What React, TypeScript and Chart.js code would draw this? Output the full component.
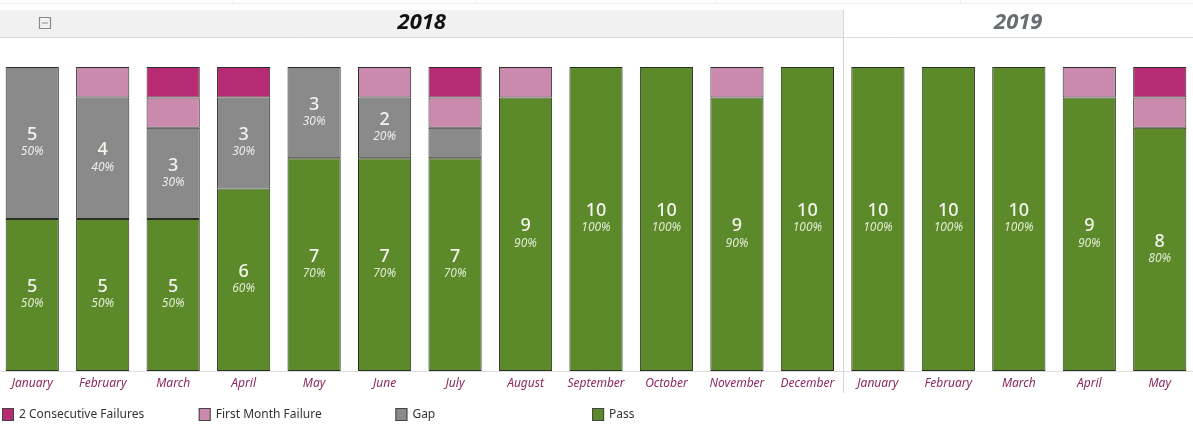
import React, { useEffect, useRef } from "react";
import { Chart, registerables } from "chart.js";

Chart.register(...registerables);

const months = [
  "January", "February", "March", "April", "May", "June", "July", "August",
  "September", "October", "November", "December",
  "January", "February", "March", "April", "May",
];
const years = ["2018", "2019"];
const monthsIn2018 = 12;

const passValues = [5, 5, 5, 6, 7, 7, 7, 9, 10, 10, 9, 10, 10, 10, 10, 9, 8];
const gapValues = [5, 4, 3, 3, 3, 2, 1, 0, 0, 0, 0, 0, 0, 0, 0, 0, 0];
const firstMonthFailureValues = [0, 1, 1, 0, 0, 1, 1, 1, 0, 0, 1, 0, 0, 0, 0, 1, 1];
const consecutiveFailureValues = [0, 0, 1, 1, 0, 0, 1, 0, 0, 0, 0, 0, 0, 0, 0, 0, 1];

const seriesNames = ["Pass", "Gap", "First Month Failure", "2 Consecutive Failures"];
const seriesColors = ["#5c8a2b", "#8a8a8a", "#c98aad", "#b72a74"];
const legendOrder = [3, 2, 1, 0];

const OFF = 3; // canvas is shifted left by this many pixels

const overlayPlugin = {
  id: "overlay",
  afterDatasetsDraw(chart: any) {
    const ctx = chart.ctx;
    const total = chart.data.datasets[0].data.map((_: any, i: number) =>
      chart.data.datasets.reduce((s: number, d: any) => s + (d.data[i] || 0), 0)
    );
    ctx.save();
    ctx.textAlign = "center";
    ctx.textBaseline = "middle";
    [0, 1].forEach((di) => {
      const meta = chart.getDatasetMeta(di);
      meta.data.forEach((el: any, i: number) => {
        const v = chart.data.datasets[di].data[i];
        if (!v || v < 2) return;
        const cy = (el.y + el.base) / 2;
        const pct = Math.round((v / total[i]) * 100) + "%";
        ctx.fillStyle = "#f4f4ee";
        ctx.font = "500 18px 'Noto Sans', sans-serif";
        ctx.fillText(String(v), el.x, cy - 8);
        ctx.fillStyle = di === 0 ? "#dfe9cf" : "#ececec";
        ctx.font = "italic 12px 'Noto Sans', sans-serif";
        ctx.fillText(pct, el.x, cy + 9);
      });
    });
    ctx.restore();
  },
  afterDraw(chart: any) {
    const ctx = chart.ctx;
    const xs = chart.scales.x;
    const divX =
      Math.round((xs.getPixelForValue(monthsIn2018 - 1) + xs.getPixelForValue(monthsIn2018)) / 2) + 0.5;
    const W = chart.width;
    ctx.save();
    // top faint strip
    ctx.strokeStyle = "#ececec";
    ctx.lineWidth = 1;
    ctx.beginPath();
    ctx.moveTo(0, 3.5);
    ctx.lineTo(W, 3.5);
    [233, 476, 716, 960].forEach((px) => {
      ctx.moveTo(px + OFF + 0.5, 0);
      ctx.lineTo(px + OFF + 0.5, 3.5);
    });
    ctx.stroke();
    // header band
    ctx.fillStyle = "#f1f1f1";
    ctx.fillRect(0, 10, divX, 27);
    ctx.strokeStyle = "#d9d9d9";
    ctx.beginPath();
    ctx.moveTo(0, 37.5);
    ctx.lineTo(W, 37.5);
    ctx.stroke();
    // divider
    ctx.strokeStyle = "#d6d6d6";
    ctx.beginPath();
    ctx.moveTo(divX, 10);
    ctx.lineTo(divX, 393);
    ctx.stroke();
    // collapse icon
    ctx.strokeStyle = "#8a8a8a";
    ctx.lineWidth = 1.2;
    ctx.beginPath();
    ctx.rect(OFF + 39.5, 17.5, 11, 11);
    ctx.moveTo(OFF + 42, 23);
    ctx.lineTo(OFF + 48, 23);
    ctx.stroke();
    // year titles
    ctx.textAlign = "center";
    ctx.textBaseline = "middle";
    ctx.font = "bold italic 22px 'Noto Sans', sans-serif";
    ctx.fillStyle = "#111111";
    ctx.fillText(years[0], (OFF + divX) / 2, 23);
    ctx.fillStyle = "#666d73";
    ctx.fillText(years[1], (divX + OFF + 1193) / 2, 23);
    // legend
    ctx.textAlign = "left";
    ctx.font = "12px 'Noto Sans', sans-serif";
    legendOrder.forEach((si, k) => {
      const x = OFF + 2 + k * 196.7;
      ctx.fillStyle = seriesColors[si];
      ctx.fillRect(x, 408, 12, 13);
      ctx.strokeStyle = "#444";
      ctx.lineWidth = 1;
      ctx.strokeRect(x + 0.5, 408.5, 11, 12);
      ctx.fillStyle = "#333333";
      ctx.fillText(seriesNames[si], x + 17, 415);
    });
    ctx.restore();
  },
};

export default function App() {
  const canvasRef = useRef<HTMLCanvasElement | null>(null);
  useEffect(() => {
    document.body.style.margin = "0";
    const canvas = canvasRef.current;
    if (!canvas) return;
    const valuesBySeries = [passValues, gapValues, firstMonthFailureValues, consecutiveFailureValues];
    const chart = new Chart(canvas, {
      type: "bar",
      data: {
        labels: months,
        datasets: valuesBySeries.map((vals, i) => ({
          label: seriesNames[i],
          data: vals.map((v) => (v === 0 ? null : v)),
          backgroundColor: seriesColors[i],
          borderColor: "#2a2f25",
          borderWidth: 1,
          borderSkipped: false,
          categoryPercentage: 1,
          barPercentage: 0.755,
        })),
      },
      options: {
        animation: false,
        responsive: true,
        maintainAspectRatio: false,
        layout: { padding: { top: 67, left: 0, right: 0, bottom: 0 } },
        plugins: { legend: { display: false }, tooltip: { enabled: false } },
        scales: {
          x: {
            stacked: true,
            grid: { display: false, drawTicks: false },
            border: { display: true, color: "#dddddd" },
            ticks: {
              color: "#8b2a62",
              font: { family: "'Noto Sans', sans-serif", size: 12, style: "italic" },
              padding: 5,
              maxRotation: 0,
              autoSkip: false,
            },
            afterFit: (scale: any) => {
              scale.height = 56;
            },
          },
          y: {
            stacked: true,
            display: false,
            min: 0,
            max: 10,
          },
        },
      },
      plugins: [overlayPlugin],
    });
    return () => chart.destroy();
  }, []);
  return (
    <div style={{ position: "absolute", left: 0, top: 0, width: 1193, height: 427, overflow: "hidden", background: "#fff" }}>
      <div style={{ position: "absolute", left: -OFF, top: 0, width: 1198, height: 427 }}>
        <canvas ref={canvasRef} />
      </div>
    </div>
  );
}
